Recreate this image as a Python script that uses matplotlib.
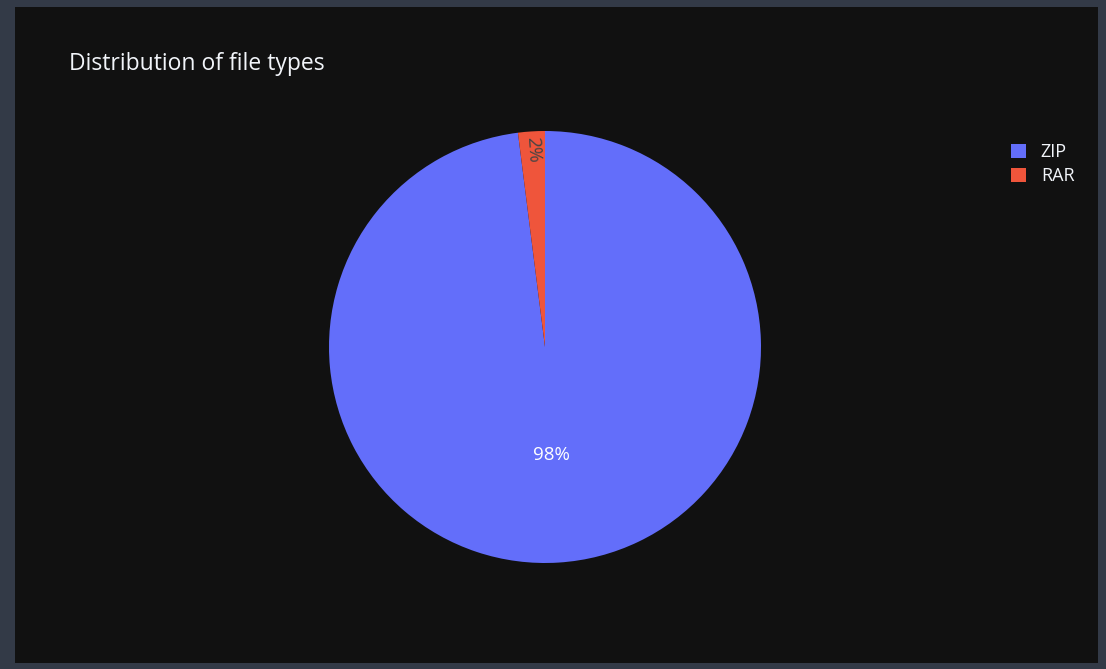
import math
import matplotlib
matplotlib.use("Agg")
from matplotlib import pyplot as plt

labels = ["ZIP", "RAR"]
shares = [98, 2]
colors = ["#636efa", "#EF553B"]

plt.rcParams['font.family'] = ['Open Sans', 'DejaVu Sans']

fig = plt.figure(figsize=(11.06, 6.69), dpi=100)
fig.patch.set_facecolor("#333a47")

# dark panel inside the slate frame
bg = fig.add_axes([15 / 1106, 6 / 669, 1083 / 1106, 656 / 669])
bg.set_facecolor("#111111")
bg.set_xticks([])
bg.set_yticks([])
for s in bg.spines.values():
    s.set_visible(False)

ax = fig.add_axes([(545 - 216) / 1106, (669 - 347 - 216) / 669, 432 / 1106, 432 / 669])
wedges, texts, autotexts = ax.pie(shares, colors=colors, startangle=90, counterclock=False,
                                  autopct='%1.0f%%', pctdistance=0.5,
                                  wedgeprops=dict(linewidth=0),
                                  textprops=dict(color="white", fontsize=13.5))
ax.set_xlim(-1, 1)
ax.set_ylim(-1, 1)
ax.set_aspect('equal')

# small slice label sits radially near the rim, dark text
mid = 90 + 360 * shares[1] / 200
autotexts[1].set_position((0.915 * math.cos(math.radians(mid)), 0.915 * math.sin(math.radians(mid))))
autotexts[1].set_rotation(mid - 180)
autotexts[1].set_color("#444444")
autotexts[1].set_va("center")
autotexts[1].set_ha("center")
autotexts[1].set_rotation_mode("anchor")

fig.text(69 / 1106, 1 - 64 / 669, "Distribution of file types", color="#f2f5fa",
         fontsize=16.5, va="center", ha="left")

fig.legend(wedges, labels, loc="upper left", bbox_to_anchor=(1002 / 1106, 1 - 134 / 669),
           frameon=False, labelcolor="#f2f5fa", fontsize=13, borderpad=0,
           handlelength=0.85, handleheight=0.85, handletextpad=0.8, labelspacing=0.33)

plt.savefig("out.png", dpi=100, facecolor=fig.get_facecolor())
